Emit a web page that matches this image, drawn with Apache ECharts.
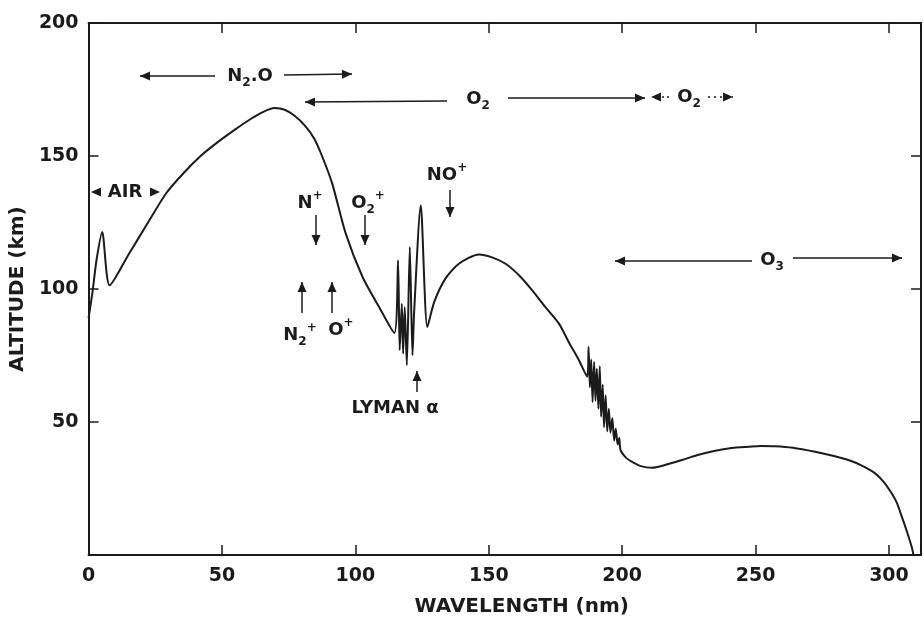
<!DOCTYPE html>
<html>
<head>
<meta charset="utf-8">
<script src="https://cdn.jsdelivr.net/npm/echarts@6/dist/echarts.min.js"></script>
<style>
  html, body { margin: 0; padding: 0; background: #fff; }
  #main { width: 924px; height: 633px; }
</style>
</head>
<body>
<div id="main"></div>
<script>
// curve: wavelength (nm) -> altitude (km)
const wavelength = [
  0, 1.5, 3, 5.1, 7.9, 15, 22, 29.1, 35.9, 42, 48.4, 55, 60.9, 65.5, 69.6, 73.5, 77.1, 81, 84.6, 87.5,
  91.3, 96.4, 102.7, 108.9, 114.6, 116, 116.6, 117.4, 117.9, 118.5, 119.3, 120.4, 121.4, 122, 124.5,
  127, 129.5, 133.8, 138.8, 146.3, 151, 156.3, 161.5, 166.3, 171, 176.3, 180, 183.8,
  186.9, 187.4, 187.9, 188.4, 188.9, 189.5, 190, 190.5, 191.1, 191.6, 192.1, 192.7, 193.2, 193.8,
  194.4, 195, 195.6, 196.3, 197, 197.6, 198.3, 198.9, 199.4,
  201.5, 203.7, 207, 211.2, 216, 222.4, 228, 234.9, 241, 247.4, 252, 257.4, 264, 272.3, 278.5,
  284.8, 290, 294.8, 298, 301, 303, 304.8, 306.5, 308.5, 309.2
];
const altitude = [
  89, 99, 111, 121.4, 101.4, 113, 124.5, 136, 143.9, 150, 155.2, 160, 164, 166.6, 168, 167.4, 165.2, 161.5, 156.5, 150,
  139.7, 120.8, 104.5, 93.2, 83.5, 110.8, 77, 94.5, 75.7, 93.2, 71.3, 115.8, 75.1, 90.8, 131.4,
  85.7, 95, 104, 109.5, 113, 112, 109.5, 105, 99.5, 93.5, 87, 80, 73.2,
  67, 78.2, 63, 73.5, 57.5, 72.6, 58, 70, 55, 71, 52, 64, 48, 60,
  46.5, 55, 46, 51.5, 43, 47.5, 41.5, 44, 39.4,
  36.5, 35, 33.4, 32.8, 33.8, 35.7, 37.5, 39.2, 40.2, 40.7, 41, 40.9, 40.3, 38.8, 37.4,
  35.7, 33.5, 30.7, 27.5, 23.2, 19.5, 14.4, 9.5, 3.1, 0
];
const xTicks = [0, 50, 100, 150, 200, 250, 300];
const yTicks = [50, 100, 150, 200];

const ink = '#1b1b1b';
const font = '"DejaVu Sans", sans-serif';

// little helpers for the drawn arrows / labels
function head(tx, ty, fx, fy) {
  const a = Math.atan2(ty - fy, tx - fx), L = 10, W = 4.5;
  const bx = tx - L * Math.cos(a), by = ty - L * Math.sin(a);
  return {
    type: 'polygon',
    shape: { points: [[tx, ty], [bx - W * Math.sin(a), by + W * Math.cos(a)], [bx + W * Math.sin(a), by - W * Math.cos(a)]] },
    style: { fill: ink }
  };
}
function seg(x1, y1, x2, y2, dash) {
  return { type: 'line', shape: { x1, y1, x2, y2 }, style: { stroke: ink, lineWidth: 1.5, lineDash: dash || null } };
}
function arrow(x1, y1, x2, y2, dash) { // head at (x2,y2)
  return [seg(x1, y1, x2, y2, dash), head(x2, y2, x1, y1)];
}
const rich = {
  m: { fontSize: 18, lineHeight: 26, fontFamily: font, fontWeight: 'bold', fill: ink },
  sub: { fontSize: 12, lineHeight: 12, fontFamily: font, fontWeight: 'bold', fill: ink, verticalAlign: 'bottom' },
  sup: { fontSize: 12, lineHeight: 12, fontFamily: font, fontWeight: 'bold', fill: ink, verticalAlign: 'top' }
};
function label(x, y, text) {
  return { type: 'text', x, y, style: { text, rich, align: 'center', verticalAlign: 'middle' } };
}

const graphics = [].concat(
  // AIR
  [head(91, 192, 101, 192)], label(125, 192, '{m|AIR}'), [head(160, 192, 150, 192)],
  // N2.O
  arrow(215, 76, 140, 76), label(250, 76, '{m|N}{sub|2}{m|.O}'), arrow(284, 75, 352, 74),
  // O2
  arrow(447, 101, 305, 102), label(478, 99, '{m|O}{sub|2}'), arrow(508, 98, 645, 98),
  [head(651, 97, 661, 97)], seg(662, 97, 670, 97, [2, 3]), label(689, 97, '{m|O}{sub|2}'),
  arrow(708, 97, 733, 97, [2, 4]),
  // O3
  arrow(752, 261, 615, 261), label(772, 260, '{m|O}{sub|3}'), arrow(793, 258, 902, 258),
  // ions
  label(310, 203, '{m|N}{sup|+}'), arrow(316, 215, 316, 245),
  label(368, 203, '{m|O}{sub|2}{sup|+}'), arrow(365, 215, 365, 245),
  label(447, 175, '{m|NO}{sup|+}'), arrow(450, 190, 450, 217),
  arrow(302, 313, 302, 282), label(300, 335, '{m|N}{sub|2}{sup|+}'),
  arrow(332, 313, 332, 282), label(341, 330, '{m|O}{sup|+}'),
  arrow(417, 392, 417, 371), label(395, 408, '{m|LYMAN α}')
);

const chart = echarts.init(document.getElementById('main'));
// onZero off so the top / right axes close the frame
const axisLine = { show: true, onZero: false, lineStyle: { color: ink, width: 2 } };
const axisTick = { show: true, inside: true, length: 10, lineStyle: { color: ink, width: 1.5 } };
const tickFont = { color: ink, fontSize: 19, fontFamily: font, fontWeight: 'bold' };
const nameFont = { color: ink, fontSize: 20, fontFamily: font, fontWeight: 'bold' };

chart.setOption({
  backgroundColor: '#fff',
  animation: false,
  grid: { left: 88, right: 2, top: 23, bottom: 78 },
  xAxis: [{
    type: 'value', min: 0, max: 312, interval: 50,
    name: 'WAVELENGTH (nm)', nameLocation: 'middle', nameGap: 42,
    nameTextStyle: { ...nameFont, padding: [0, 0, 0, 34] },
    axisLine, axisTick, splitLine: { show: false },
    axisLabel: { ...tickFont, margin: 12, formatter: v => xTicks.includes(v) ? String(v) : '' }
  }, {
    type: 'value', position: 'top', min: 0, max: 312, interval: 50,
    axisLine, axisTick, splitLine: { show: false }, axisLabel: { show: false }
  }],
  yAxis: [{
    type: 'value', min: 0, max: 200, interval: 50,
    name: 'ALTITUDE (km)', nameLocation: 'middle', nameGap: 48,
    nameTextStyle: nameFont,
    axisLine, axisTick, splitLine: { show: false },
    axisLabel: { ...tickFont, margin: 10, formatter: v => yTicks.includes(v) ? String(v) : '' }
  }, {
    type: 'value', position: 'right', min: 0, max: 200, interval: 50,
    axisLine, axisTick, splitLine: { show: false }, axisLabel: { show: false }
  }],
  series: [{
    type: 'line',
    data: wavelength.map((w, i) => [w, altitude[i]]),
    showSymbol: false,
    smooth: 0.25,
    lineStyle: { color: ink, width: 2 }
  }],
  graphic: graphics
});
</script>
</body>
</html>
